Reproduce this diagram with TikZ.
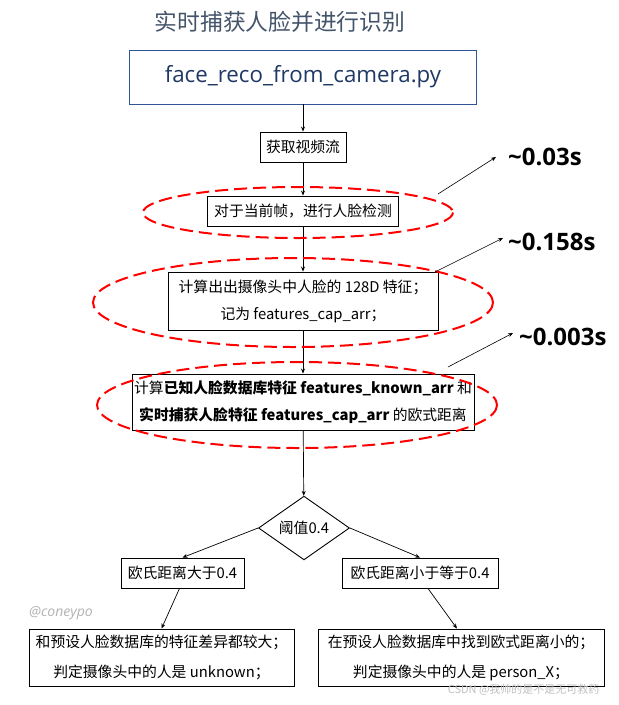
\documentclass[tikz,border=0pt]{standalone}
\usepackage{fontspec}
\setmainfont{Noto Sans CJK SC}
\newfontfamily\latinfont{Open Sans}
\usetikzlibrary{arrows.meta,shapes.geometric}

\definecolor{titleblue}{HTML}{44546A}
\definecolor{navy}{HTML}{203864}
\definecolor{boxblue}{HTML}{2F5597}

\tikzset{
  box/.style={draw, line width=0.9pt, inner sep=0pt, align=center, font=\fontsize{14.8}{27}\selectfont},
  timelabel/.style={anchor=west, inner sep=0pt, font=\latinfont\bfseries\fontsize{24}{24}\selectfont},
  ring/.style={red, line width=2pt, dash pattern=on 13pt off 6pt},
  link/.style={->, line width=0.7pt},
}

\begin{document}
\begin{tikzpicture}[x=1pt,y=-1pt,>={Stealth[length=5pt,width=4pt]}]
\useasboundingbox (0,0) rectangle (619,705);
\node[text=titleblue, font=\fontsize{22.8}{22.8}\selectfont] (title) at (280,22) {实时捕获人脸并进行识别};
\node[box, draw=boxblue, text=navy, minimum width=347pt, minimum height=54pt, font=\latinfont\fontsize{22.3}{22.3}\selectfont] (cam) at (303,77) {face\_reco\_from\_camera.py};
\node[box, minimum width=86pt, minimum height=30pt] (stream) at (303,147) {获取视频流};
\node[box, minimum width=191pt, minimum height=30pt] (detect) at (303,211) {对于当前帧，进行人脸检测};
\node[box, minimum width=270pt, minimum height=58pt] (feat) at (303,301) {计算出出摄像头中人脸的 128D 特征；\\记为 features\_cap\_arr；};
\node[box, minimum width=342pt, minimum height=56pt] (dist) at (303,402) {计算\textbf{已知人脸数据库特征 features\_known\_arr} 和\\\textbf{实时捕获人脸特征 features\_cap\_arr} 的欧式距离};
\node[box, diamond, minimum width=91pt, minimum height=55pt] (thr) at (304,528) {阈值0.4};
\node[box, minimum width=123pt, minimum height=30pt] (big) at (182.5,573) {欧氏距离大于0.4};
\node[box, minimum width=156pt, minimum height=30pt] (small) at (420,573) {欧氏距离小于等于0.4};
\node[box, minimum width=265pt, minimum height=57pt, font=\fontsize{14.8}{30}\selectfont] (unk) at (161.5,657.5) {和预设人脸数据库的特征差异都较大；\\判定摄像头中的人是 unknown；};
\node[box, minimum width=286pt, minimum height=57pt, font=\fontsize{14.8}{30}\selectfont] (pers) at (461,657.5) {在预设人脸数据库中找到欧式距离小的；\\判定摄像头中的人是 person\_X；};

\draw[link] (cam) -- (stream);
\draw[link] (stream) -- (detect);
\draw[link] (detect) -- (feat);
\draw[link] (feat) -- (dist);
\draw[link] (dist) -- (thr);
\draw[link] (thr.west) -- (big.north);
\draw[link] (thr.east) -- (small.north);
\draw[link] ([xshift=-3pt]big.south) -- (unk.north);
\draw[link] ([xshift=8pt]small.south) -- ([xshift=-4pt]pers.north);

% timing rings
\draw[ring] (298,212.5) ellipse (155 and 25.5);
\draw[ring] (293,302.5) ellipse (200 and 44.5);
\draw[ring] (297,405) ellipse (200 and 43);

\node[timelabel] (t1) at (508,157) {\textasciitilde0.03s};
\node[timelabel] (t2) at (508,242) {\textasciitilde0.158s};
\node[timelabel] (t3) at (519,337) {\textasciitilde0.003s};
\coordinate (s1) at (438,194);
\coordinate (s2) at (435,272);
\coordinate (s3) at (448,367);
\draw[->, line width=0.6pt] (s1) -- ([xshift=-12pt]t1.west);
\draw[->, line width=0.6pt] (s2) -- ([xshift=-5pt,yshift=4pt]t2.west);
\draw[->, line width=0.6pt] (s3) -- ([xshift=-6pt,yshift=4pt]t3.west);

\node[text=gray!60, font=\latinfont\itshape\fontsize{14}{14}\selectfont] (sign) at (61,613) {@coneypo};
\node[text=gray!50, font=\fontsize{11}{11}\selectfont, anchor=east] (csdn) at (603,690) {CSDN @我帅的是不是无可救药};
\end{tikzpicture}
\end{document}
